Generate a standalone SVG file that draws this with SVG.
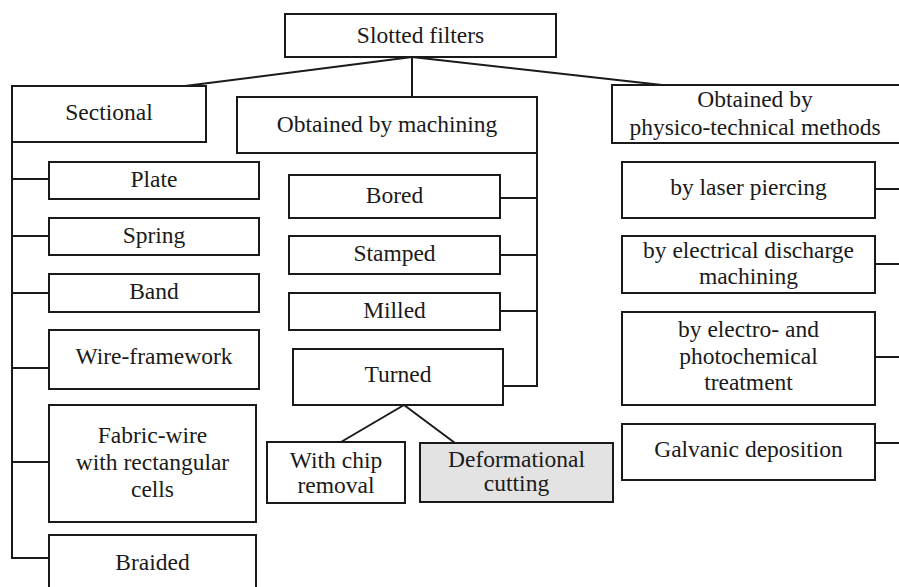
<svg xmlns="http://www.w3.org/2000/svg" width="899" height="587" viewBox="0 0 899 587">
<style>
rect{fill:#fff;stroke:#1a1a1a;stroke-width:2}
rect.gray{fill:#e3e3e3}
text{font-family:'Liberation Serif','Times New Roman','DejaVu Serif',Times,serif;font-size:23.5px;fill:#1a1a1a;text-anchor:middle}
#connectors path{fill:none;stroke:#1a1a1a;stroke-width:2}
</style>
<rect x="0" y="0" width="899" height="587" style="fill:#fff;stroke:none"/>
<g id="connectors">
<path d="M412 57 L185 86"/>
<path d="M412 57 L412 97"/>
<path d="M412 57 L662 85"/>
<path d="M12 142 L12 558 L49 558"/>
<path d="M12 179 L49 179"/>
<path d="M12 236 L49 236"/>
<path d="M12 293 L49 293"/>
<path d="M12 368 L49 368"/>
<path d="M12 462 L49 462"/>
<path d="M537 153 L537 386 L503 386"/>
<path d="M500 198 L537 198"/>
<path d="M500 255 L537 255"/>
<path d="M500 311 L537 311"/>
<path d="M404 405 L341 442"/>
<path d="M404 405 L455 443"/>
<path d="M875 189 L899 189"/>
<path d="M875 264 L899 264"/>
<path d="M875 357 L899 357"/>
<path d="M875 443 L899 443"/>
</g>
<g font-family="Liberation Serif, serif">
<g id="slotted"><rect x="285" y="14" width="271" height="43"/><text x="420.5" y="43">Slotted filters</text></g>
<g id="sectional"><rect x="12" y="86" width="194" height="56"/><text x="109" y="120">Sectional</text></g>
<g id="machining"><rect x="237" y="97" width="300" height="56"/><text x="387" y="132">Obtained by machining</text></g>
<g id="physico"><rect x="612" y="85" width="290" height="58"/><text x="755" y="107">Obtained by</text><text x="755" y="135">physico-technical methods</text></g>
<g id="plate"><rect x="49" y="162" width="210" height="37"/><text x="154" y="187">Plate</text></g>
<g id="spring"><rect x="49" y="218" width="210" height="37"/><text x="154" y="243">Spring</text></g>
<g id="band"><rect x="49" y="274" width="210" height="38"/><text x="154" y="299">Band</text></g>
<g id="wire"><rect x="49" y="330" width="210" height="59"/><text x="154" y="364">Wire-framework</text></g>
<g id="fabric"><rect x="49" y="405" width="207" height="117"/><text x="152.5" y="443">Fabric-wire</text><text x="152.5" y="470">with rectangular</text><text x="152.5" y="497">cells</text></g>
<g id="braided"><rect x="49" y="535" width="207" height="60"/><text x="152.5" y="570">Braided</text></g>
<g id="bored"><rect x="289" y="175" width="211" height="43"/><text x="394.5" y="203">Bored</text></g>
<g id="stamped"><rect x="289" y="236" width="211" height="38"/><text x="394.5" y="261">Stamped</text></g>
<g id="milled"><rect x="289" y="293" width="211" height="37"/><text x="394.5" y="318">Milled</text></g>
<g id="turned"><rect x="293" y="349" width="210" height="56"/><text x="398" y="382">Turned</text></g>
<g id="chip"><rect x="267" y="442" width="138" height="61"/><text x="336" y="468">With chip</text><text x="336" y="493">removal</text></g>
<g id="deform"><rect class="gray" x="420" y="443" width="193" height="59"/><text x="516.5" y="467">Deformational</text><text x="516.5" y="491">cutting</text></g>
<g id="laser"><rect x="622" y="162" width="253" height="56"/><text x="748.5" y="195">by laser piercing</text></g>
<g id="edm"><rect x="622" y="236" width="253" height="57"/><text x="748.5" y="258">by electrical discharge</text><text x="748.5" y="284">machining</text></g>
<g id="electro"><rect x="622" y="312" width="253" height="93"/><text x="748.5" y="337">by electro- and</text><text x="748.5" y="364">photochemical</text><text x="748.5" y="390">treatment</text></g>
<g id="galvanic"><rect x="622" y="424" width="253" height="56"/><text x="748.5" y="457">Galvanic deposition</text></g>
</g>
</svg>
